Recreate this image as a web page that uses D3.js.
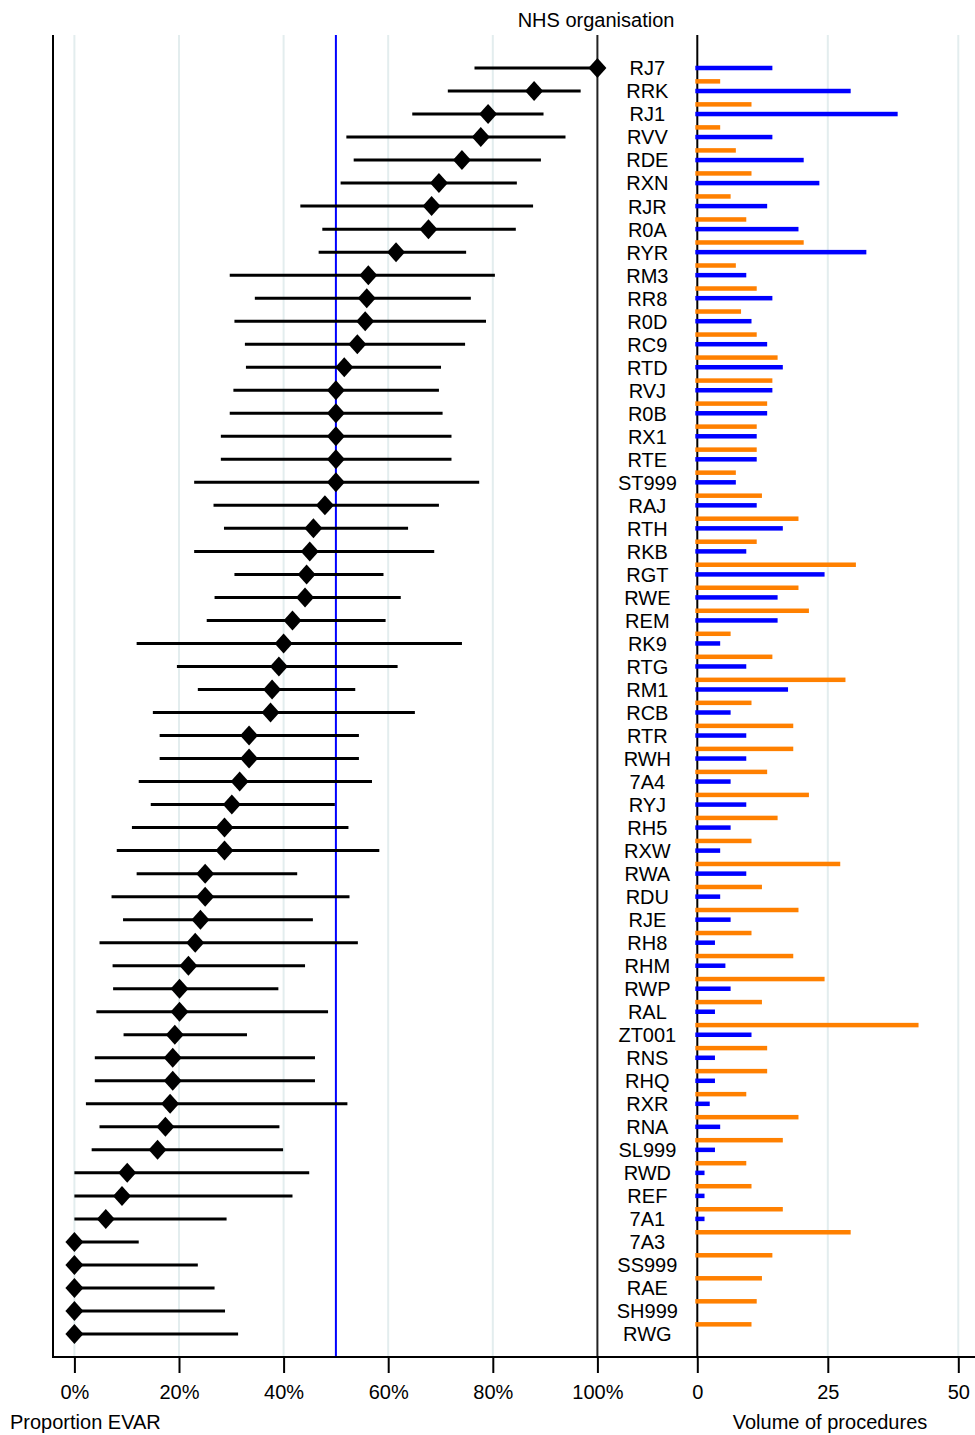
<!DOCTYPE html>
<html>
<head>
<meta charset="utf-8">
<script src="https://cdn.jsdelivr.net/npm/d3@7"></script>
<style>
  body { margin: 0; background: #fff; }
  svg text { font-family: "Liberation Sans", Arial, sans-serif; font-size: 20px; fill: #000; }
</style>
</head>
<body>
<svg id="chart" width="975" height="1435"></svg>
<script>
// NHS organisations, sorted by proportion EVAR
var orgs = ['RJ7','RRK','RJ1','RVV','RDE','RXN','RJR','R0A','RYR','RM3','RR8','R0D','RC9','RTD','RVJ','R0B','RX1','RTE','ST999','RAJ',
  'RTH','RKB','RGT','RWE','REM','RK9','RTG','RM1','RCB','RTR','RWH','7A4','RYJ','RH5','RXW','RWA','RDU','RJE','RH8','RHM',
  'RWP','RAL','ZT001','RNS','RHQ','RXR','RNA','SL999','RWD','REF','7A1','7A3','SS999','RAE','SH999','RWG'];

// proportion EVAR (%) with 95% CI
var propEvar = [100,87.9,79.1,77.7,74.1,69.7,68.3,67.7,61.5,56.2,55.9,55.6,54.1,51.6,50,50,50,50,50,47.9,
  45.7,45.0,44.4,44.1,41.7,40.0,39.1,37.8,37.5,33.4,33.4,31.6,30.1,28.7,28.7,25.0,25.0,24.1,23.1,21.8,
  20.1,20.1,19.2,18.8,18.8,18.3,17.4,15.9,10.1,9.1,6.0,0,0,0,0,0];
var ciLow = [76.5,71.4,64.6,52.0,53.4,50.9,43.2,47.4,46.7,29.7,34.5,30.6,32.6,32.8,30.4,29.7,28.0,28.0,22.9,26.6,
  28.6,22.9,30.6,26.8,25.3,11.9,19.6,23.6,15.0,16.3,16.3,12.3,14.6,11.0,8.1,11.9,7.1,9.3,4.8,7.3,
  7.4,4.2,9.4,3.9,3.9,2.2,4.8,3.3,0,0,0,0,0,0,0,0];
var ciHigh = [100,96.8,89.7,93.9,89.2,84.6,87.7,84.4,74.9,80.4,75.8,78.7,74.7,70.1,69.7,70.4,72.1,72.1,77.4,69.7,
  63.8,68.8,59.1,62.4,59.5,74.1,61.8,53.7,65.1,54.4,54.4,56.9,49.8,52.4,58.3,42.6,52.6,45.6,54.2,44.1,
  39.0,48.5,33.0,46.0,46.0,52.2,39.2,39.9,44.9,41.7,29.1,12.3,23.6,26.8,28.8,31.3];

// volume of procedures: EVAR (blue) and open (orange)
var evarCount = [14,29,38,14,20,23,13,19,32,9,14,10,13,16,14,13,11,11,7,11,
  16,9,24,15,15,4,9,17,6,9,9,6,9,6,4,9,4,6,3,5,
  6,3,10,3,3,2,4,3,1,1,1,0,0,0,0,0];
var openCount = [0,4,10,4,7,10,6,9,20,7,11,8,11,15,14,13,11,11,7,12,
  19,11,30,19,21,6,14,28,10,18,18,13,21,15,10,27,12,19,10,18,
  24,12,42,13,13,9,19,16,9,10,16,29,14,12,11,10];

var propTicks = [0, 20, 40, 60, 80, 100];
var volTicks = [0, 25, 50];
var refLine = 50;

var svg = d3.select('#chart');
var yTop = 35, yBottom = 1357;

var xL = d3.scaleLinear().domain([0, 100]).range([74.4, 597.4]);
var xR = d3.scaleLinear().domain([0, 50]).range([697.3, 958.3]);
var y = d3.scalePoint().domain(orgs).range([68, 1334]);
var step = y.step();

var rows = orgs.map(function(o, i) {
  return {org: o, p: propEvar[i], lo: ciLow[i], hi: ciHigh[i], evar: evarCount[i], open: openCount[i]};
});

// gridlines
var grid = svg.append('g').attr('stroke', '#e3edee').attr('stroke-width', 2);
grid.selectAll('line.gl').data(propTicks.filter(function(t) { return t < 100; })).enter().append('line')
  .attr('x1', function(d) { return xL(d); }).attr('x2', function(d) { return xL(d); })
  .attr('y1', yTop).attr('y2', yBottom);
grid.selectAll('line.gr').data(volTicks.filter(function(t) { return t > 0; })).enter().append('line')
  .attr('x1', function(d) { return xR(d); }).attr('x2', function(d) { return xR(d); })
  .attr('y1', yTop).attr('y2', yBottom);

// reference line at 50%
svg.append('line')
  .attr('x1', xL(refLine)).attr('x2', xL(refLine))
  .attr('y1', yTop).attr('y2', yBottom)
  .attr('stroke', '#0000ff').attr('stroke-width', 2);

// frame lines
svg.append('line').attr('x1', 53).attr('x2', 53).attr('y1', yTop).attr('y2', yBottom)
  .attr('stroke', '#000').attr('stroke-width', 2);
svg.append('line').attr('x1', xL(100)).attr('x2', xL(100)).attr('y1', yTop).attr('y2', yBottom)
  .attr('stroke', '#222').attr('stroke-width', 2);
svg.append('line').attr('x1', xR(0)).attr('x2', xR(0)).attr('y1', yTop).attr('y2', yBottom)
  .attr('stroke', '#000').attr('stroke-width', 2);

// volume bars
var barH = 4.5;
svg.append('g').selectAll('rect.open').data(rows.filter(function(d) { return d.open > 0; })).enter().append('rect')
  .attr('x', xR(0) - 2)
  .attr('y', function(d) { return y(d.org) - step * 0.42 - barH / 2; })
  .attr('width', function(d) { return xR(d.open) - xR(0) + 4; })
  .attr('height', barH)
  .attr('fill', '#ff8000');
svg.append('g').selectAll('rect.evar').data(rows.filter(function(d) { return d.evar > 0; })).enter().append('rect')
  .attr('x', xR(0) - 2)
  .attr('y', function(d) { return y(d.org) - barH / 2; })
  .attr('width', function(d) { return xR(d.evar) - xR(0) + 4; })
  .attr('height', barH)
  .attr('fill', '#0000ff');

// CIs
svg.append('g').selectAll('line').data(rows).enter().append('line')
  .attr('x1', function(d) { return xL(d.lo); })
  .attr('x2', function(d) { return xL(d.hi); })
  .attr('y1', function(d) { return y(d.org); })
  .attr('y2', function(d) { return y(d.org); })
  .attr('stroke', '#000').attr('stroke-width', 3);

// diamonds
var diamond = 'M0,-10L9,0L0,10L-9,0Z';
svg.append('g').selectAll('path').data(rows).enter().append('path')
  .attr('d', diamond)
  .attr('transform', function(d) { return 'translate(' + xL(d.p) + ',' + y(d.org) + ')'; })
  .attr('fill', '#000');

// organisation labels
var labelX = (xL(100) + xR(0)) / 2;
svg.append('g').selectAll('text').data(rows).enter().append('text')
  .attr('x', labelX)
  .attr('y', function(d) { return y(d.org); })
  .attr('dy', '0.37em')
  .attr('text-anchor', 'middle')
  .text(function(d) { return d.org; });

svg.append('text').attr('x', 596).attr('y', 27).attr('text-anchor', 'middle').text('NHS organisation');

// axes
svg.append('line').attr('x1', 52).attr('x2', 975).attr('y1', yBottom).attr('y2', yBottom)
  .attr('stroke', '#000').attr('stroke-width', 2);

var axL = d3.axisBottom(xL).tickValues(propTicks).tickSize(16).tickPadding(12)
  .tickFormat(function(d) { return d + '%'; });
var axR = d3.axisBottom(xR).tickValues(volTicks).tickSize(16).tickPadding(12);

[axL, axR].forEach(function(ax) {
  var g = svg.append('g').attr('transform', 'translate(0,' + yBottom + ')').call(ax);
  g.select('.domain').remove();
  g.selectAll('.tick line').attr('stroke', '#000').attr('stroke-width', 2);
  g.selectAll('.tick text').attr('font-size', null).attr('font-family', null);
});
svg.selectAll('.tick text').style('font-size', '20px').style('font-family', '"Liberation Sans", Arial, sans-serif');

svg.append('text').attr('x', 10).attr('y', 1429).text('Proportion EVAR');
svg.append('text').attr('x', 830).attr('y', 1429).attr('text-anchor', 'middle').text('Volume of procedures');
</script>
</body>
</html>
